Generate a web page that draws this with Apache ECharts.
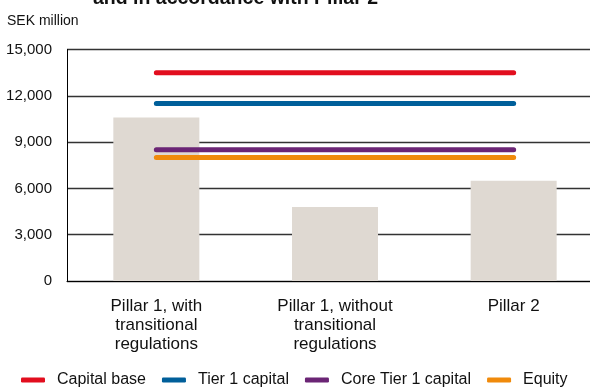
<!DOCTYPE html>
<html>
<head>
<meta charset="utf-8">
<script src="https://cdn.jsdelivr.net/npm/echarts@6/dist/echarts.min.js"></script>
<style>
html,body{margin:0;padding:0;background:#fff;overflow:hidden;}
#chart{width:603px;height:387px;}
</style>
</head>
<body>
<div id="chart"></div>
<script>
var categories = ['Pillar 1, with\ntransitional\nregulations', 'Pillar 1, without\ntransitional\nregulations', 'Pillar 2'];
var requirementValues = [10600, 4800, 6500];
var capitalBase = [13500, 13500, 13500];
var tier1Capital = [11500, 11500, 11500];
var coreTier1Capital = [8500, 8500, 8500];
var equity = [8000, 8000, 8000];
var yTicks = [0, 3000, 6000, 9000, 12000, 15000];

var FONT = '"Liberation Sans", Arial, Helvetica, sans-serif';
var chart = echarts.init(document.getElementById('chart'), null, {renderer: 'canvas'});

function lineSeries(name, data, color) {
  return {
    name: name, type: 'line', data: data, symbol: 'none', z: 5,
    lineStyle: {color: color, width: 5, cap: 'round'},
    itemStyle: {color: color},
    emphasis: {disabled: true}, animation: false
  };
}

chart.setOption({
  animation: false,
  textStyle: {fontFamily: FONT},
  grid: {left: 67, top: 49.5, bottom: 106, right: 0, containLabel: false},
  graphic: [
    {type: 'text', x: 93, y: -1, z: 100, style: {text: 'and in accordance with Pillar 2', font: 'bold 19.5px ' + FONT, fill: '#111', verticalAlign: 'middle', align: 'left'}},
    {type: 'text', x: 7, y: 14, style: {text: 'SEK million', font: '14px ' + FONT, fill: '#111'}}
  ],
  legend: {
    left: 16, top: 367, itemWidth: 24, itemHeight: 5, itemGap: 16,
    icon: 'roundRect',
    textStyle: {fontSize: 16, color: '#111', fontFamily: FONT, padding: [0, 0, 0, 7]},
    data: ['Capital base', 'Tier 1 capital', 'Core Tier 1 capital', 'Equity']
  },
  xAxis: {
    type: 'category', data: categories, boundaryGap: true,
    axisLine: {lineStyle: {color: '#000', width: 1}},
    axisTick: {show: false},
    axisLabel: {fontSize: 17, lineHeight: 19, color: '#111', margin: 16, interval: 0, fontFamily: FONT}
  },
  yAxis: {
    type: 'value', min: yTicks[0], max: yTicks[yTicks.length - 1], interval: 3000,
    axisLine: {show: true, lineStyle: {color: '#000', width: 1}},
    axisTick: {show: false},
    axisLabel: {fontSize: 15, color: '#111', margin: 15, fontFamily: FONT,
      formatter: function (v) { return v === 0 ? '0' : v.toLocaleString('en-US'); }},
    splitLine: {lineStyle: {color: '#333', width: 1.3}}
  },
  series: [
    {name: 'Requirement', type: 'bar', data: requirementValues, barWidth: 86, z: 2,
      itemStyle: {color: '#dfd9d2'}, emphasis: {disabled: true}},
    lineSeries('Capital base', capitalBase, '#e20e1e'),
    lineSeries('Tier 1 capital', tier1Capital, '#005f9a'),
    lineSeries('Core Tier 1 capital', coreTier1Capital, '#6b2575'),
    lineSeries('Equity', equity, '#f08a0b')
  ]
});
</script>
</body>
</html>
